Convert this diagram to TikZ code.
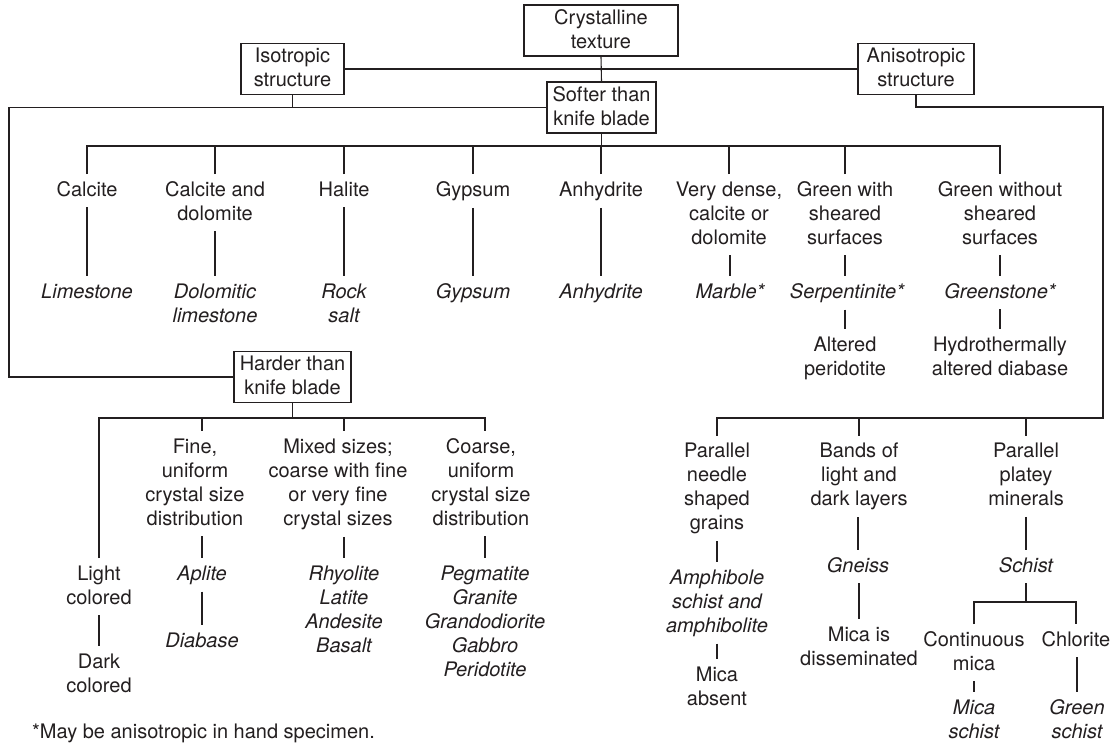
\documentclass[tikz,border=0pt]{standalone}
\usepackage{fontspec}
\setmainfont{TeX Gyre Heros}
\definecolor{ink}{RGB}{35,31,32}
\newcommand\fs{\rule[-4pt]{0pt}{19pt}}
\begin{document}
\begin{tikzpicture}[x=1pt,y=-1pt,
  inkline/.style={draw=ink, line width=1.1pt},
  fnt/.style={font=\fontsize{20}{24}\selectfont},
  txt/.style={fnt, text=ink, align=center, inner xsep=1pt, inner ysep=7pt, anchor=north},
  itx/.style={txt, font=\fontsize{20}{24}\selectfont\itshape},
  box/.style={fnt, text=ink, draw=ink, line width=1.1pt, align=center, inner xsep=2pt, inner ysep=2pt, minimum height=51pt, anchor=center}]

\fill[white] (0,0) rectangle (1114,742);
\useasboundingbox (0,0) rectangle (1114,742);

% boxes
\node[box, minimum width=154pt] (crys) at (601,30.5) {\fs Crystalline\\texture\fs};
\node[box, minimum width=103pt] (iso) at (292.5,69) {\fs Isotropic\\structure\fs};
\node[box, minimum width=116pt] (aniso) at (916,69) {\fs Anisotropic\\structure\fs};
\node[box, minimum width=109pt] (soft) at (601.5,107.5) {\fs Softer than\\knife blade\fs};
\node[box, minimum width=117pt] (hard) at (292.5,377) {\fs Harder than\\knife blade\fs};

% softer than knife blade
\node[txt] (calcite) at (87,174) {\fs Calcite\fs};
\node[txt] (caldol) at (215,174) {\fs Calcite and\\dolomite\fs};
\node[txt] (halite) at (344,174) {\fs Halite\fs};
\node[txt] (gyps) at (473,174) {\fs Gypsum\fs};
\node[txt] (anhy) at (601,174) {\fs Anhydrite\fs};
\node[txt] (dense) at (729,174) {\fs Very dense,\\calcite or\\dolomite\fs};
\node[txt] (greenw) at (845,174) {\fs Green with\\sheared\\surfaces\fs};
\node[txt] (greenwo) at (1000,174) {\fs Green without\\sheared\\surfaces\fs};

\node[itx] (lime) at (87,276) {\fs Limestone\fs};
\node[itx] (dollime) at (215,276) {\fs Dolomitic\\limestone\fs};
\node[itx] (rocksalt) at (344,276) {\fs Rock\\salt\fs};
\node[itx] (gypsum) at (473,276) {\fs Gypsum\fs};
\node[itx] (anhydrite) at (601,276) {\fs Anhydrite\fs};
\node[itx] (marble) at (730,276) {\fs Marble*\fs};
\node[itx] (serp) at (847,276) {\fs Serpentinite*\fs};
\node[itx] (greenst) at (1000,276) {\fs Greenstone*\fs};
\node[txt] (altper) at (845,329) {\fs Altered\\peridotite\fs};
\node[txt] (hydro) at (1000,329) {\fs Hydrothermally\\altered diabase\fs};

% harder than knife blade
\node[txt] (light) at (99,558) {\fs Light\\colored\fs};
\node[txt] (dark) at (99,646) {\fs Dark\\colored\fs};
\node[txt] (fine) at (195,431) {\fs Fine,\\uniform\\crystal size\\distribution\fs};
\node[itx] (aplite) at (202,558) {\fs Aplite\fs};
\node[itx] (diabase) at (202,625) {\fs Diabase\fs};
\node[txt] (mixed) at (338,431) {\fs Mixed sizes;\\coarse with fine\\or very fine\\crystal sizes\fs};
\node[itx] (volc) at (344,558) {\fs Rhyolite\\Latite\\Andesite\\Basalt\fs};
\node[txt] (coarse) at (481,431) {\fs Coarse,\\uniform\\crystal size\\distribution\fs};
\node[itx] (plut) at (485,558) {\fs Pegmatite\\Granite\\Grandodiorite\\Gabbro\\Peridotite\fs};

% anisotropic
\node[txt] (needle) at (717,435.5) {\fs Parallel\\needle\\shaped\\grains\fs};
\node[itx] (amph) at (717,562) {\fs Amphibole\\schist and\\amphibolite\fs};
\node[txt] (micaabs) at (717,659) {\fs Mica\\absent\fs};
\node[txt] (bands) at (859,435.5) {\fs Bands of\\light and\\dark layers\fs};
\node[itx] (gneiss) at (858,550) {\fs Gneiss\fs};
\node[txt] (micadis) at (859,619) {\fs Mica is\\disseminated\fs};
\node[txt] (platey) at (1026,435.5) {\fs Parallel\\platey\\minerals\fs};
\node[itx] (schist) at (1026,550) {\fs Schist\fs};
\node[txt] (contmica) at (974,624) {\fs Continuous\\mica\fs};
\node[txt] (chlorite) at (1076,624) {\fs Chlorite\fs};
\node[itx] (micaschist) at (974,692) {\fs Mica\\schist\fs};
\node[itx] (greenschist) at (1077,692) {\fs Green\\schist\fs};

\node[fnt, text=ink, anchor=base west, inner sep=0pt] (note) at (32,738) {*May be anisotropic in hand specimen.};

% helper coordinates
\coordinate (sb) at (0,146);
\coordinate (lc) at (9,107.5);
\coordinate (hb) at (0,418);
\coordinate (ar) at (1103,107);
\coordinate (ab) at (1103,418);
\coordinate (schb) at (0,602);

% top connectors
\draw[inkline] (iso.east) -- (aniso.west);
\draw[inkline] (crys.south) -- (soft.north);
\draw[inkline] (iso.south) -- (iso.south |- soft.west);
\draw[inkline] (soft.west) -- (lc) |- (hard.west);

% softer bus
\draw[inkline] (soft.south) -- (soft.south |- sb);
\draw[inkline] (calcite.north) -- (calcite.north |- sb) -- (greenwo.north |- sb) -- (greenwo.north);
\foreach \n in {caldol,halite,gyps,anhy,dense,greenw}
  \draw[inkline] (\n.north) -- (\n.north |- sb);
\foreach \p/\c in {calcite/lime,caldol/dollime,halite/rocksalt,gyps/gypsum,anhy/anhydrite,dense/marble,greenwo/greenst,greenst/hydro,serp/altper}
  \draw[inkline] (\c.north |- \p.south) -- (\c.north);
\draw[inkline] (greenw.south) -- (greenw.south |- serp.north);

% harder bus
\draw[inkline] (hard.south) -- (hard.south |- hb);
\draw[inkline] (light.north) -- (light.north |- hb) -- (plut.north |- hb) -- (plut.north |- coarse.north);
\draw[inkline] (aplite.north |- hb) -- (aplite.north |- fine.north);
\draw[inkline] (volc.north |- hb) -- (volc.north |- mixed.north);
\foreach \p/\c in {light/dark,fine/aplite,aplite/diabase,mixed/volc,coarse/plut}
  \draw[inkline] (\c.north |- \p.south) -- (\c.north);

% anisotropic bus
\draw[inkline] (aniso.south) |- (ar) -- (ab) -- (ab -| needle.north) -- (needle.north);
\draw[inkline] (bands.north) -- (bands.north |- ab);
\draw[inkline] (platey.north) -- (platey.north |- ab);
\foreach \p/\c in {needle/amph,amph/micaabs,bands/gneiss,gneiss/micadis,platey/schist,contmica/micaschist,chlorite/greenschist}
  \draw[inkline] (\c.north |- \p.south) -- (\c.north);
\draw[inkline] (schist.south) -- (schist.south |- schb);
\draw[inkline] (contmica.north) -- (contmica.north |- schb) -- (chlorite.north |- schb) -- (chlorite.north);
\end{tikzpicture}
\end{document}
